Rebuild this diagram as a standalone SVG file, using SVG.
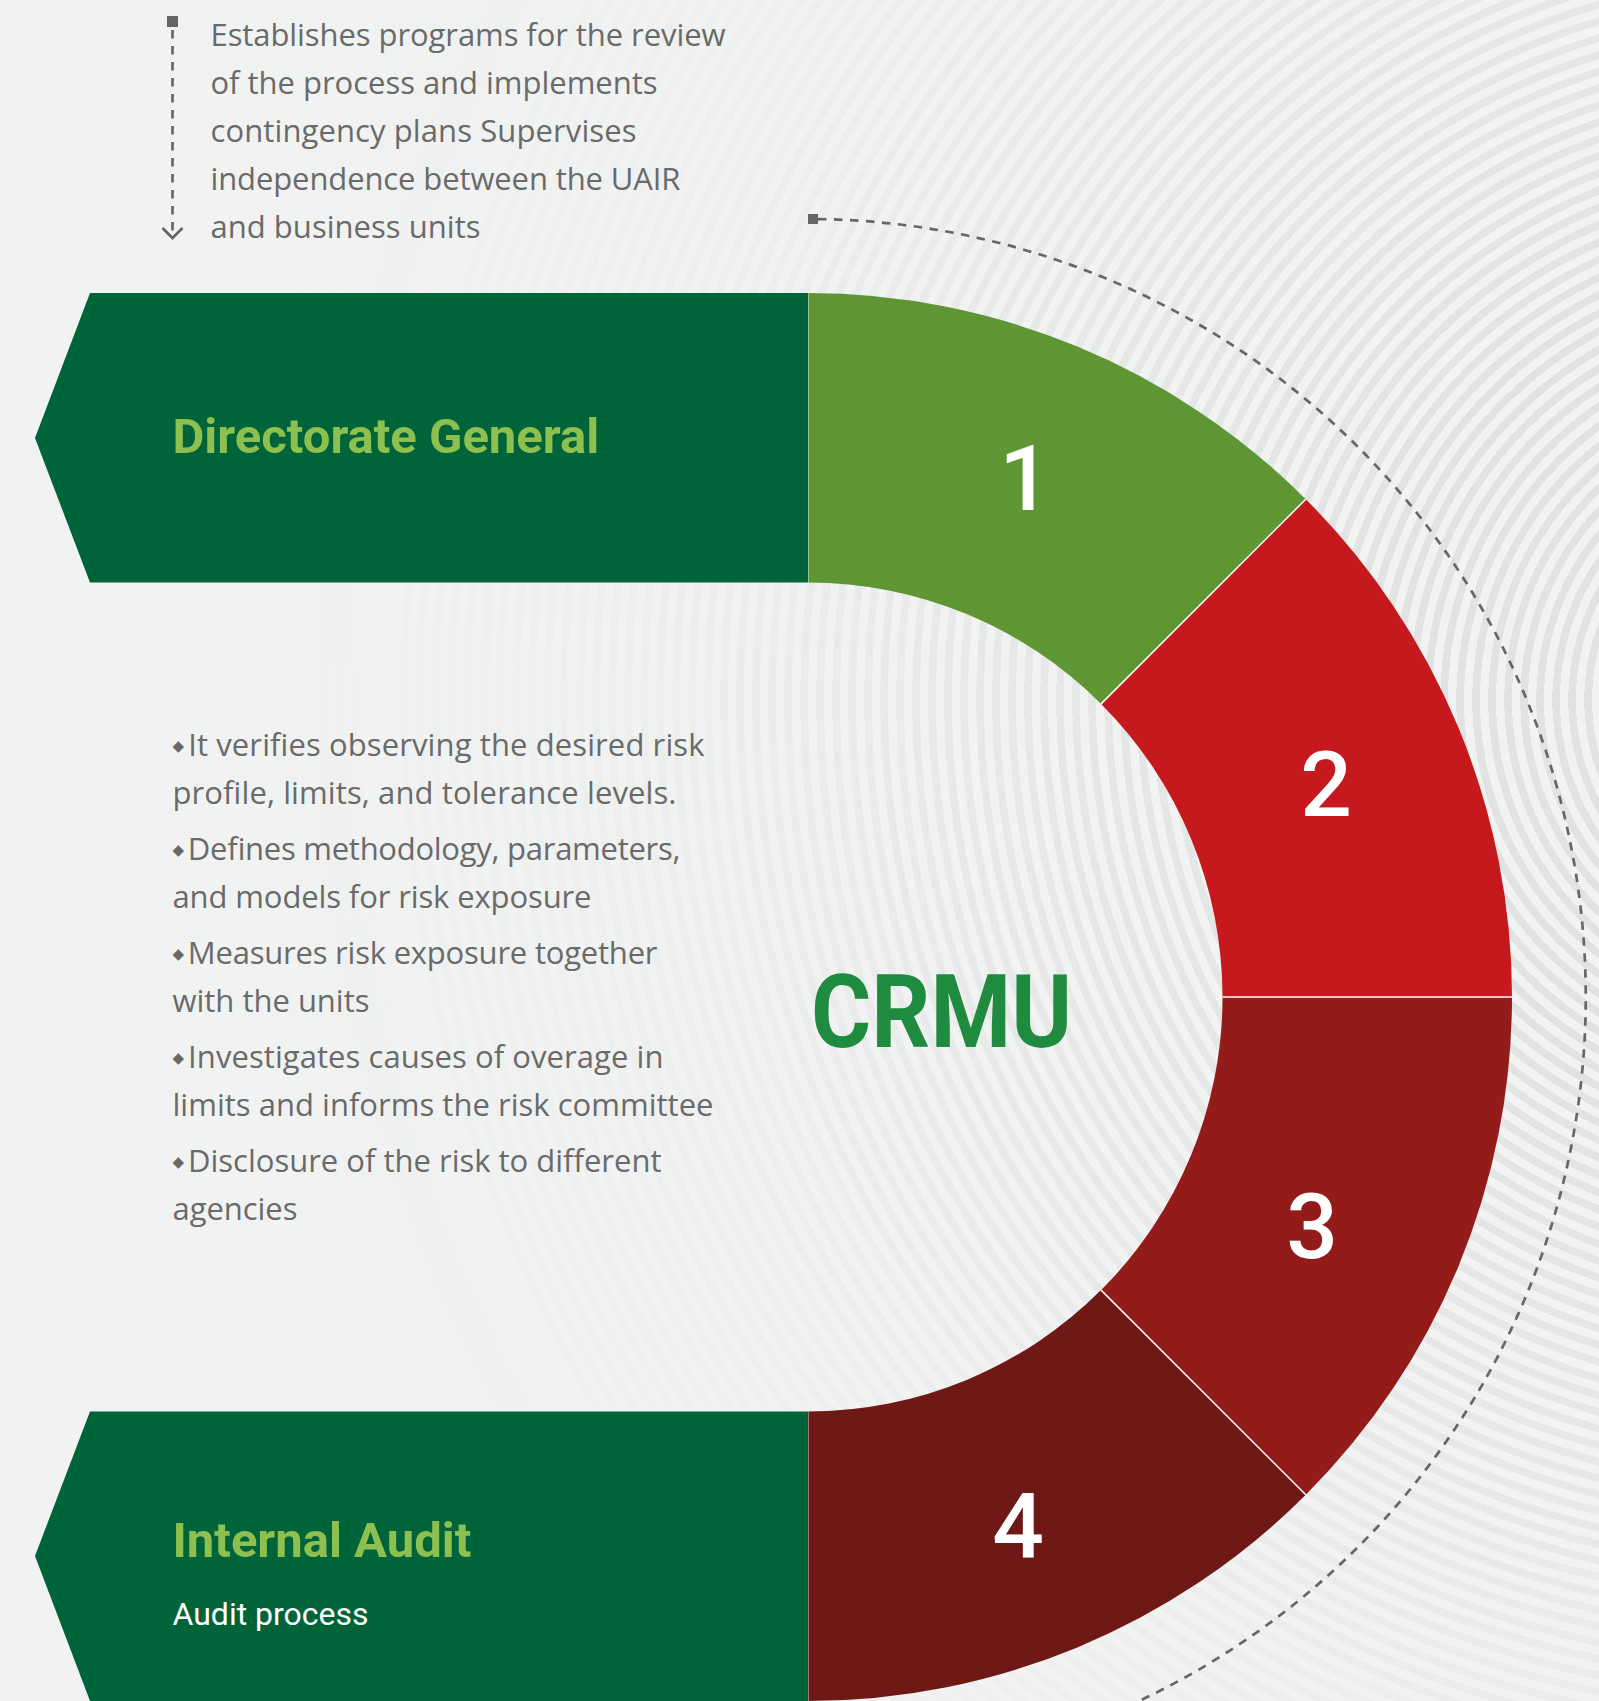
<svg xmlns="http://www.w3.org/2000/svg" width="1599" height="1701" viewBox="0 0 1599 1701">
  <defs>
    <radialGradient id="rings" gradientUnits="userSpaceOnUse" cx="1800" cy="700" r="16" spreadMethod="repeat">
      <stop offset="0" stop-color="#e1e3e2"/>
      <stop offset="0.48" stop-color="#e1e3e2"/>
      <stop offset="0.48" stop-color="#f1f3f2"/>
      <stop offset="1" stop-color="#f1f3f2"/>
    </radialGradient>
    <radialGradient id="fade" gradientUnits="userSpaceOnUse" cx="1800" cy="700" r="1700">
      <stop offset="0" stop-color="#fff" stop-opacity="1"/>
      <stop offset="0.25" stop-color="#fff" stop-opacity="1"/>
      <stop offset="0.5" stop-color="#fff" stop-opacity="0.6"/>
      <stop offset="0.6" stop-color="#fff" stop-opacity="0.4"/>
      <stop offset="0.78" stop-color="#fff" stop-opacity="0.12"/>
      <stop offset="0.95" stop-color="#fff" stop-opacity="0"/>
    </radialGradient>
    <mask id="fadeMask" maskUnits="userSpaceOnUse" x="0" y="0" width="1599" height="1701">
      <rect x="0" y="0" width="1599" height="1701" fill="url(#fade)"/>
    </mask>
    <style>
      .body { font-family: "Open Sans", "Noto Sans", sans-serif; font-size: 31px; fill: #6a6a6a; }
      .dia { font-family: "DejaVu Sans", sans-serif; font-size: 15px; }
      .title { font-family: Roboto, "Noto Sans", sans-serif; font-weight: 700; font-size: 49px; fill: #8dc04f; }
      .sub { font-family: Roboto, "Noto Sans", sans-serif; font-weight: 400; font-size: 32px; fill: #ffffff; }
      .num { font-family: Roboto, "Noto Sans", sans-serif; font-weight: 500; font-size: 91px; fill: #ffffff; text-anchor: middle; }
      .box { fill: #00643a; }
      .sep { stroke: #ffffff; stroke-width: 1.5; fill: none; }
      .dash { stroke: #666666; stroke-width: 2.7; fill: none; stroke-dasharray: 8.5 7.5; }
    </style>
  </defs>

  <rect x="0" y="0" width="1599" height="1701" fill="#f1f3f2"/>
  <rect x="0" y="0" width="1599" height="1701" fill="url(#rings)" mask="url(#fadeMask)"/>

  <g id="connectors">
    <rect x="167" y="16" width="11" height="11" fill="#666666"/>
    <line x1="172.5" y1="30" x2="172.5" y2="236" class="dash" stroke-dasharray="8 8"/>
    <polyline points="162.5,228 172.5,238 182.5,228" fill="none" stroke="#666666" stroke-width="2.7"/>
    <rect x="808" y="214" width="10" height="10" fill="#666666"/>
    <path d="M818,219.1 A778,778 0 0 1 1139,1701" class="dash"/>
  </g>

  <g id="note-top">
    <text class="body" x="210.5" y="46" textLength="515" lengthAdjust="spacing">Establishes programs for the review</text>
    <text class="body" x="210.5" y="94" textLength="447" lengthAdjust="spacing">of the process and implements</text>
    <text class="body" x="210.5" y="142" textLength="426" lengthAdjust="spacing">contingency plans Supervises</text>
    <text class="body" x="210.5" y="190" textLength="470" lengthAdjust="spacing">independence between the UAIR</text>
    <text class="body" x="210.5" y="238" textLength="270" lengthAdjust="spacing">and business units</text>
  </g>

  <g id="directorate-general">
    <polygon class="box" points="90,293 808,293 808,582.5 90,582.5 35,438"/>
    <text class="title" x="172.5" y="453">Directorate General</text>
  </g>

  <g id="internal-audit">
    <polygon class="box" points="90,1411.5 808,1411.5 808,1701 90,1701 35,1556"/>
    <text class="title" x="172.5" y="1557">Internal Audit</text>
    <text class="sub" x="172.5" y="1625">Audit process</text>
  </g>

  <g id="segment-1">
    <path d="M808,293 A704,704 0 0 1 1305.8,499.2 L1101.1,703.9 A414.5,414.5 0 0 0 808,582.5 Z" fill="#5f9634"/>
    <text class="num" x="1025" y="510">1</text>
  </g>
  <g id="segment-2">
    <path d="M1305.8,499.2 A704,704 0 0 1 1512,997 L1222.5,997 A414.5,414.5 0 0 0 1101.1,703.9 Z" fill="#c5191d"/>
    <text class="num" x="1326" y="816">2</text>
  </g>
  <g id="segment-3">
    <path d="M1512,997 A704,704 0 0 1 1305.8,1494.8 L1101.1,1290.1 A414.5,414.5 0 0 0 1222.5,997 Z" fill="#931c1b"/>
    <text class="num" x="1312" y="1258">3</text>
  </g>
  <g id="segment-4">
    <path d="M1305.8,1494.8 A704,704 0 0 1 808,1701 L808,1411.5 A414.5,414.5 0 0 0 1101.1,1290.1 Z" fill="#6e1915"/>
    <text class="num" x="1018" y="1558">4</text>
  </g>
  <g id="separators">
    <line class="sep" x1="1101.1" y1="703.9" x2="1305.8" y2="499.2"/>
    <line class="sep" x1="1222.5" y1="997" x2="1512" y2="997"/>
    <line class="sep" x1="1101.1" y1="1290.1" x2="1305.8" y2="1494.8"/>
    <line x1="808.5" y1="293" x2="808.5" y2="582.5" stroke="#ffffff" stroke-opacity="0.4" stroke-width="1"/>
    <line x1="808.5" y1="1411.5" x2="808.5" y2="1701" stroke="#ffffff" stroke-opacity="0.4" stroke-width="1"/>
  </g>

  <g id="crmu">
    <text x="811" y="1047" textLength="261" lengthAdjust="spacingAndGlyphs" font-family="Roboto, 'Noto Sans', sans-serif" font-weight="700" font-size="102" fill="#1f8b3f">CRMU</text>
  </g>

  <g id="note-bullets">
    <text class="body" x="172.5" y="756" textLength="532" lengthAdjust="spacing"><tspan class="dia" dy="-5">◆</tspan><tspan dx="4" dy="5">It verifies observing the desired risk</tspan></text>
    <text class="body" x="172.5" y="804" textLength="504" lengthAdjust="spacing">profile, limits, and tolerance levels.</text>
    <text class="body" x="172.5" y="860" textLength="508" lengthAdjust="spacing"><tspan class="dia" dy="-5">◆</tspan><tspan dx="4" dy="5">Defines methodology, parameters,</tspan></text>
    <text class="body" x="172.5" y="908" textLength="419" lengthAdjust="spacing">and models for risk exposure</text>
    <text class="body" x="172.5" y="964" textLength="485" lengthAdjust="spacing"><tspan class="dia" dy="-5">◆</tspan><tspan dx="4" dy="5">Measures risk exposure together</tspan></text>
    <text class="body" x="172.5" y="1012" textLength="197" lengthAdjust="spacing">with the units</text>
    <text class="body" x="172.5" y="1068" textLength="491" lengthAdjust="spacing"><tspan class="dia" dy="-5">◆</tspan><tspan dx="4" dy="5">Investigates causes of overage in</tspan></text>
    <text class="body" x="172.5" y="1116" textLength="541" lengthAdjust="spacing">limits and informs the risk committee</text>
    <text class="body" x="172.5" y="1172" textLength="489" lengthAdjust="spacing"><tspan class="dia" dy="-5">◆</tspan><tspan dx="4" dy="5">Disclosure of the risk to different</tspan></text>
    <text class="body" x="172.5" y="1220" textLength="125" lengthAdjust="spacing">agencies</text>
  </g>
</svg>
